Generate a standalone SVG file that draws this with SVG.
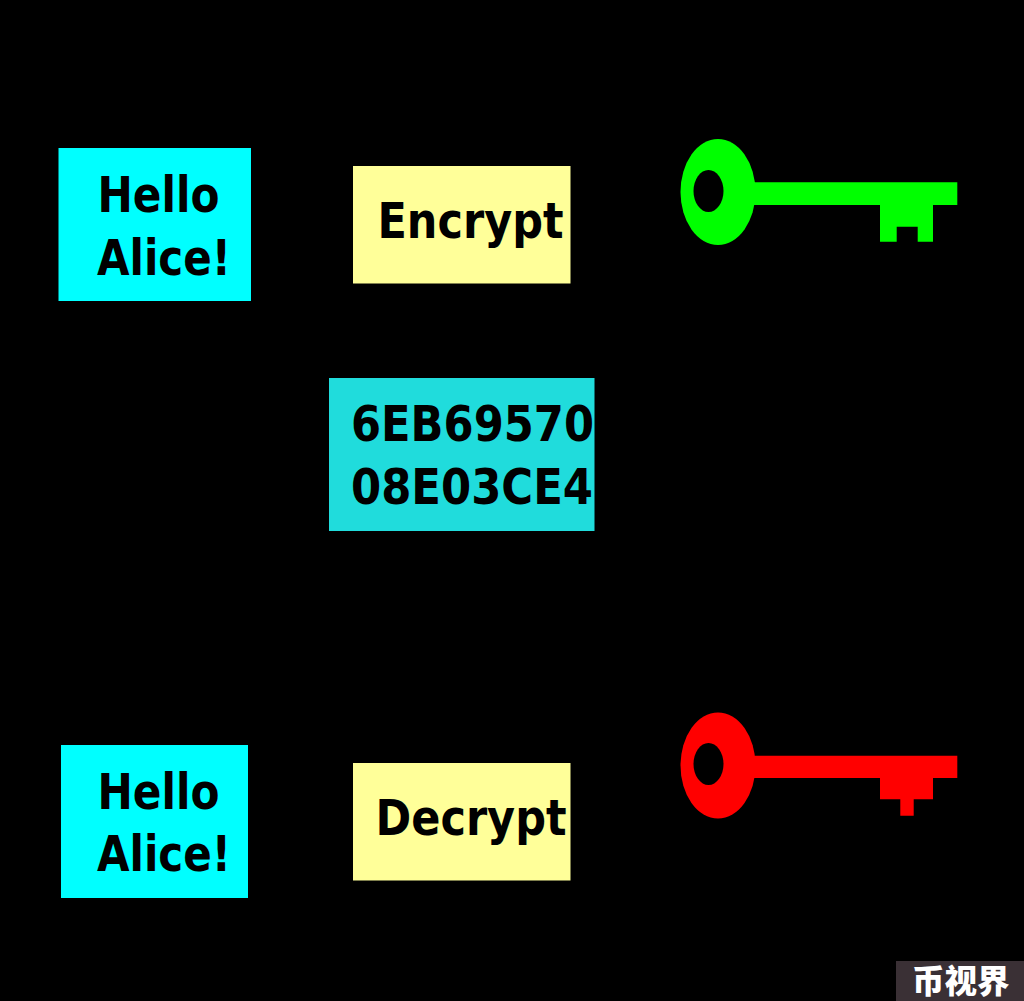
<svg xmlns="http://www.w3.org/2000/svg" width="1024" height="1001" viewBox="0 0 1024 1001">
<style>
.t{font-family:"DejaVu Sans",sans-serif;font-weight:700;font-size:50px;fill:#000}
.msg{fill:#0ff}
.op{fill:#ff9}
.hole{fill:#000}
</style>
<rect width="1024" height="1001" fill="#000"/>
<g id="plaintext">
<rect class="msg" x="58.500" y="148" width="192.500" height="153"/>
<text class="t" x="97.500" y="212" textLength="122" lengthAdjust="spacingAndGlyphs">Hello</text>
<text class="t" x="97" y="275" textLength="134" lengthAdjust="spacingAndGlyphs">Alice!</text>
</g>
<g id="encrypt">
<rect class="op" x="353" y="166" width="217.500" height="117.500"/>
<text class="t" x="377.500" y="238" textLength="186" lengthAdjust="spacingAndGlyphs">Encrypt</text>
</g>
<g id="public-key" fill="#0f0">
<path d="M740 182.300H957.300V205H933V241.800H917.700V226.700H896.700V241.800H880V205H740Z"/>
<ellipse cx="718" cy="192" rx="37.500" ry="53"/>
<ellipse class="hole" cx="708.500" cy="191" rx="15" ry="21"/>
</g>
<g id="ciphertext">
<rect x="329" y="378" width="265.500" height="153" fill="#20dcdc"/>
<text class="t" x="351" y="441" textLength="243" lengthAdjust="spacingAndGlyphs">6EB69570</text>
<text class="t" x="351" y="504" textLength="242" lengthAdjust="spacingAndGlyphs">08E03CE4</text>
</g>
<g id="plaintext-out">
<rect class="msg" x="61" y="745" width="187" height="153"/>
<text class="t" x="97.500" y="809" textLength="122" lengthAdjust="spacingAndGlyphs">Hello</text>
<text class="t" x="97" y="871" textLength="134" lengthAdjust="spacingAndGlyphs">Alice!</text>
</g>
<g id="decrypt">
<rect class="op" x="353" y="763" width="217.500" height="117.500"/>
<text class="t" x="375.500" y="835" textLength="191" lengthAdjust="spacingAndGlyphs">Decrypt</text>
</g>
<g id="private-key" fill="#f00">
<path d="M740 755.700H957.300V778H933V799.300H913.700V815.700H900.300V799.300H880V778H740Z"/>
<ellipse cx="718" cy="765.500" rx="37.500" ry="53"/>
<ellipse class="hole" cx="708.500" cy="764" rx="15" ry="21"/>
</g>
<g id="watermark">
<rect x="896" y="961" width="128" height="40" fill="#3a3035"/>
<text x="912" y="993" font-family="'Noto Sans CJK SC',sans-serif" font-weight="900" font-size="32.500" fill="#fff">币视界</text>
</g>
<g id="connectors"></g>
</svg>
